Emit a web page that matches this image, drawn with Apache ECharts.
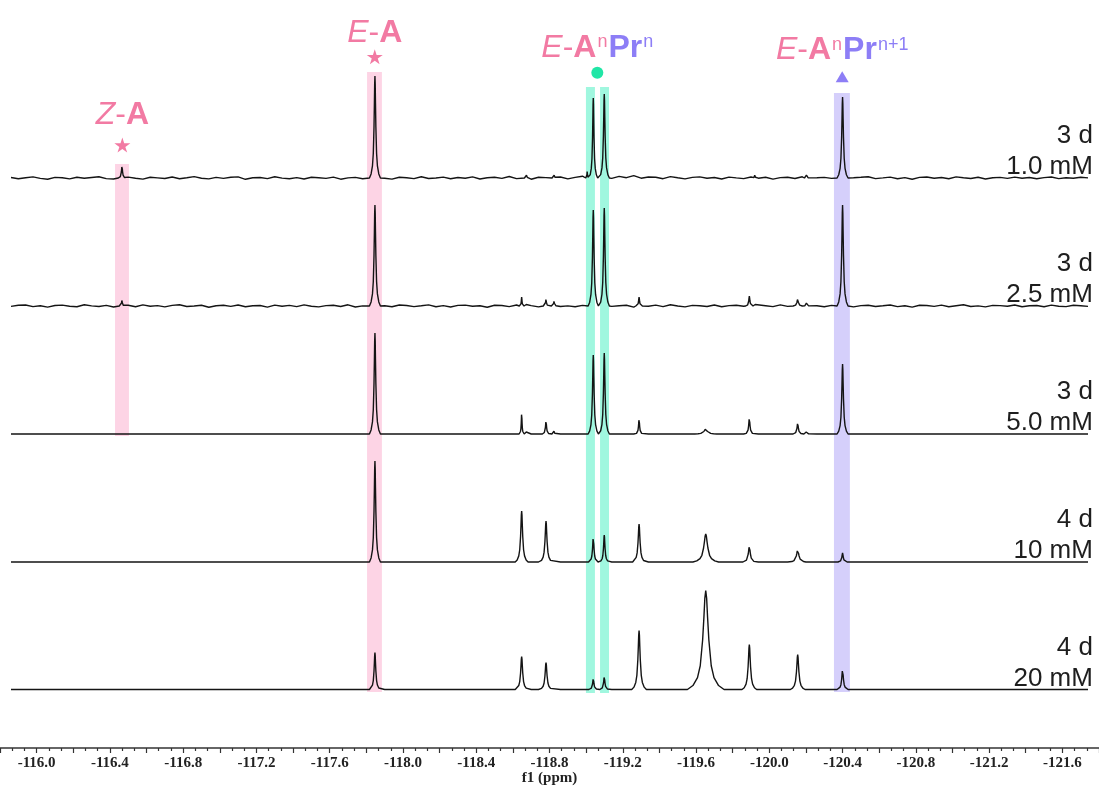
<!DOCTYPE html>
<html>
<head>
<meta charset="utf-8">
<script src="https://cdn.jsdelivr.net/npm/echarts@6/dist/echarts.min.js"></script>
<style>
  html, body { margin: 0; padding: 0; background: #ffffff; }
  #chart { width: 1099px; height: 787px; }
</style>
</head>
<body>
<div id="chart"></div>
<script>
// ---- Sample labels (top to bottom) ----
const sampleDays = ['3 d', '3 d', '3 d', '4 d', '4 d'];
const sampleConc = ['1.0 mM', '2.5 mM', '5.0 mM', '10 mM', '20 mM'];

// ---- Peak tables: [shift (ppm), intensity, half base width (ppm)] ----
const peaks_1_0mM = [
  [-116.466, 12, 0.020],
  [-117.847, 102, 0.030],
  [-118.675, 3, 0.012],
  [-118.826, 3, 0.012],
  [-119.006, 7, 0.008],
  [-119.039, 80, 0.024],
  [-119.099, 84, 0.028],
  [-119.921, 3, 0.012],
  [-120.204, 4, 0.012],
  [-120.400, 81, 0.030]
];
const peaks_2_5mM = [
  [-116.466, 6, 0.015],
  [-117.847, 101, 0.030],
  [-118.648, 9, 0.013],
  [-118.675, 3, 0.010],
  [-118.781, 7, 0.015],
  [-118.825, 5, 0.015],
  [-119.039, 96, 0.028],
  [-119.099, 98, 0.028],
  [-119.289, 9, 0.018],
  [-119.891, 10, 0.020],
  [-119.925, 3, 0.012],
  [-120.155, 7, 0.025],
  [-120.204, 4, 0.015],
  [-120.400, 101, 0.030]
];
const peaks_5_0mM = [
  [-117.847, 101, 0.030],
  [-118.648, 21, 0.014],
  [-118.675, 4, 0.010],
  [-118.781, 13, 0.020],
  [-118.825, 3, 0.012],
  [-119.039, 79, 0.028],
  [-119.099, 81, 0.028],
  [-119.289, 15, 0.020],
  [-119.653, 5, 0.060],
  [-119.891, 16, 0.024],
  [-120.155, 11, 0.025],
  [-120.204, 4, 0.015],
  [-120.400, 70, 0.030]
];
const peaks_10mM = [
  [-117.847, 101, 0.030],
  [-118.648, 51, 0.035],
  [-118.781, 41, 0.035],
  [-119.039, 25, 0.026],
  [-119.099, 27, 0.026],
  [-119.289, 38, 0.035],
  [-119.653, 28, 0.070],
  [-119.891, 16, 0.035],
  [-120.155, 12, 0.045],
  [-120.400, 9, 0.025]
];
const peaks_20mM = [
  [-117.847, 37, 0.030],
  [-118.648, 33, 0.035],
  [-118.781, 27, 0.035],
  [-119.039, 11, 0.024],
  [-119.099, 13, 0.024],
  [-119.289, 59, 0.040],
  [-119.653, 99, 0.100],
  [-119.891, 45, 0.040],
  [-120.155, 35, 0.040],
  [-120.400, 20, 0.030]
];

// ---- Baseline noise of the dilute samples, sampled every 0.04 ppm ----
const noise_1_0mM = [
  0.5,-0.8,0.3,1.1,-0.4,-1.2,0.6,0.2,-0.9,0.8,-0.3,0.5,1.3,-0.6,-1.0,0.4,0.9,-0.2,-1.1,0.7,
  0.1,-0.5,1.0,-0.7,0.3,1.4,-0.2,-0.9,0.6,-0.4,0.8,1.1,-1.3,0.2,0.5,-0.6,1.2,-0.1,-0.8,0.4,
  -1.0,0.7,0.3,-0.4,0.9,-1.2,0.1,0.6,-0.7,1.0,0.4,-0.3,-1.1,0.8,0.2,-0.6,1.3,-0.5,0.0,0.9,
  -0.8,0.5,-0.2,1.1,-1.0,0.3,0.7,-0.4,1.5,-0.6,0.2,-1.2,0.8,0.4,-0.3,1.0,-0.9,0.6,1.8,-0.5,
  1.2,2.1,-0.4,1.6,0.3,2.4,-0.2,1.0,0.8,-0.7,1.4,0.2,-0.9,0.6,1.1,-0.3,0.5,-1.0,0.9,0.1,
  -0.6,1.0,-0.2,0.7,-1.1,0.4,0.8,-0.5,1.2,-0.8,0.3,0.6,-0.4,1.0,-0.9,0.2,0.7,1.3,-0.6,0.1,
  0.9,-0.7,0.4,-1.2,0.6,1.0,-0.3,0.5,-0.8,1.1,0.2,-0.5,0.8,-1.0,0.3,0.6,-0.4,0.9,-0.2,0.5,
  -0.7,0.4,1.0,-0.6,0.2,-0.3,0.8,0.1
];
const noise_2_5mM = [
  -0.4,0.7,1.0,-0.6,0.2,-1.1,0.5,0.9,-0.3,-0.8,1.2,0.1,-0.5,0.6,-1.0,0.3,0.8,-0.7,1.1,-0.2,
  0.4,-0.9,0.6,1.3,-0.5,0.0,0.8,-1.2,0.3,0.7,-0.4,1.0,-0.8,0.2,0.5,-1.1,0.9,-0.3,0.6,-0.6,
  1.1,-0.2,-0.9,0.4,0.8,-0.5,1.2,-1.0,0.1,0.7,-0.4,0.3,-0.8,1.0,0.5,-0.6,0.2,1.1,-0.7,0.4,
  -1.0,0.6,0.9,-0.3,0.2,-1.2,0.8,0.5,-0.6,1.0,-0.2,0.4,-0.9,0.7,1.2,-0.5,0.1,-0.8,0.6,0.3,
  -0.7,1.0,-0.4,0.2,0.8,-1.1,0.5,-0.3,0.9,-0.6,1.3,0.0,-0.9,0.6,0.3,-0.5,1.0,-0.8,0.4,0.7,
  -0.2,-1.0,0.8,0.3,-0.6,1.1,-0.4,0.5,-1.2,0.9,0.2,-0.7,0.6,1.0,-0.3,-0.9,0.4,0.8,-0.5,0.2,
  1.0,-0.6,0.3,-1.1,0.7,0.5,-0.4,0.9,-0.8,0.2,1.2,-0.5,0.1,-0.9,0.6,0.4,-0.3,1.0,-0.7,0.3,
  0.5,-0.8,0.9,-0.2,-0.6,0.7,0.2,-0.4
];

// ---- Assigned signals: highlighted ppm windows and marker positions ----
const bandPpm = [
  [-116.428, -116.504],   // Z-A
  [-117.804, -117.885],   // E-A
  [-118.999, -119.048],   // E-AnPrn (low-field line)
  [-119.076, -119.125],   // E-AnPrn (high-field line)
  [-120.353, -120.440]    // E-AnPrn+1
];
const markerPpm = [-116.468, -117.846, -119.061, -120.398];
const markerText = [
  '{i|Z}{p|-}{b|A}',
  '{i|E}{p|-}{b|A}',
  '{i|E}{p|-}{b|A}{s|n}{vb|Pr}{vs|n}',
  '{i|E}{p|-}{b|A}{s|n}{vb|Pr}{vs|n+1}'
];

// ---- Layout / style constants ----
const PINK = '#f27aa3', PURPLE = '#8d7ef6', GREEN = '#20e6a6';
const traceOffsets = [570, 442, 314, 186, 58.5];      // stacking offsets (plot units)
const bandVertical = [[312, 584], [56, 676], [55, 661], [55, 661], [56, 655]];
const bandColors = ['rgba(249,135,184,0.36)', 'rgba(249,135,184,0.36)',
                    'rgba(44,237,184,0.45)', 'rgba(44,237,184,0.45)', 'rgba(150,135,245,0.40)'];
const markerLevels = [603, 691.3, 675.3, 671.3];
const markerDistance = [3, -2.5, 0, 2];
const STAR = 'path://M50,0 L61,35 L98,35 L68,57 L79,91 L50,70 L21,91 L32,57 L2,35 L39,35 Z';
const markerSymbols = [STAR, STAR, 'circle', 'triangle'];
const markerSizes = [[16, 15], [16, 15], 12, [13, 11]];
const markerColors = [PINK, PINK, GREEN, PURPLE];
// outline of one resonance, left flank to apex: [fraction of half base width, fraction of height]
const peakShape = [[1, 0], [0.7, 0.04], [0.45, 0.12], [0.3, 0.24], [0.17, 0.5], [0.1, 0.73], [0.05, 0.92], [0, 1]];
const ppmStart = -115.86, noiseStep = -0.04, baselineSamples = 148;
const labelPpm = -121.767;
const SANS = 'Liberation Sans, Arial, sans-serif';
const SERIF = 'Liberation Serif, Times New Roman, serif';

const allPeaks = [peaks_1_0mM, peaks_2_5mM, peaks_5_0mM, peaks_10mM, peaks_20mM];
const allNoise = [noise_1_0mM, noise_2_5mM, null, null, null];

// Assemble one stacked trace, left to right: baseline samples merged with each peak outline
function buildTrace(peaks, noise, offset) {
  // peak outlines in display order (peaks are listed from low to high field)
  const outline = [];
  peaks.forEach(([c, h, w]) => {
    peakShape.forEach(([fx, fy]) => outline.push([c + fx * w, offset + fy * h]));
    for (let j = peakShape.length - 2; j >= 0; j--) {
      const [fx, fy] = peakShape[j];
      outline.push([c - fx * w, offset + fy * h]);
    }
  });
  const inPeak = x => peaks.some(p => Math.abs(x - p[0]) <= p[2] + 0.004);
  const base = [];
  for (let i = 0; i < baselineSamples; i++) {
    const x = ppmStart + i * noiseStep;
    if (!inPeak(x)) base.push([x, offset + (noise ? noise[i] : 0)]);
  }
  // merge two lists that both run from high ppm to low ppm
  const pts = [];
  let a = 0, b = 0;
  while (a < base.length || b < outline.length) {
    if (b >= outline.length || (a < base.length && base[a][0] > outline[b][0])) pts.push(base[a++]);
    else pts.push(outline[b++]);
  }
  return pts;
}

const richBase = { fontFamily: SANS, fontSize: 32, lineHeight: 38 };
const supBase = { fontFamily: SANS, fontSize: 18, lineHeight: 20, verticalAlign: 'middle' };
const markerRich = {
  i:  Object.assign({}, richBase, { fontStyle: 'italic', color: PINK }),
  p:  Object.assign({}, richBase, { color: PINK }),
  b:  Object.assign({}, richBase, { fontWeight: 'bold', color: PINK }),
  s:  Object.assign({}, supBase, { color: PINK, padding: [0, 1, 11, 1] }),
  vb: Object.assign({}, richBase, { fontWeight: 'bold', color: PURPLE }),
  vs: Object.assign({}, supBase, { color: PURPLE, padding: [0, 0, 11, 1] })
};

const series = [];

allPeaks.forEach((peaks, k) => {
  series.push({
    name: sampleConc[k],
    type: 'line',
    data: buildTrace(peaks, allNoise[k], traceOffsets[k]),
    showSymbol: false,
    silent: true,
    z: 2,
    lineStyle: { color: '#141414', width: 1.4 }
  });
});

// Sample captions at the right end of every trace
series.push({
  type: 'scatter',
  silent: true,
  z: 6,
  symbolSize: 0.1,
  itemStyle: { color: 'rgba(0,0,0,0)', opacity: 1 },
  data: traceOffsets.map((off, k) => ({
    value: [labelPpm, off],
    label: {
      show: true,
      position: 'left',
      distance: 0,
      offset: [0, -26.5],
      formatter: sampleDays[k] + '\n' + sampleConc[k],
      fontFamily: SANS,
      fontSize: 26,
      lineHeight: 31,
      color: '#1e1e1e'
    }
  }))
});

// Assignment markers, their labels and the translucent highlight bands
series.push({
  type: 'scatter',
  silent: true,
  z: 5,
  itemStyle: { opacity: 1 },
  data: markerPpm.map((x, k) => ({
    value: [x, markerLevels[k]],
    symbol: markerSymbols[k],
    symbolSize: markerSizes[k],
    itemStyle: { color: markerColors[k], opacity: 1 },
    label: {
      show: true,
      position: 'top',
      distance: markerDistance[k],
      formatter: markerText[k],
      rich: markerRich
    }
  })),
  markArea: {
    silent: true,
    label: { show: false },
    data: bandPpm.map((r, k) => [
      { coord: [r[0], bandVertical[k][1]], itemStyle: { color: bandColors[k] } },
      { coord: [r[1], bandVertical[k][0]] }
    ])
  }
});

const chart = echarts.init(document.getElementById('chart'), null, { renderer: 'canvas' });
chart.setOption({
  animation: false,
  backgroundColor: '#ffffff',
  grid: { left: 0, right: 0, top: 0, bottom: 39, outerBoundsMode: 'none', containLabel: false },
  xAxis: {
    type: 'value',
    inverse: true,
    min: -121.8,
    max: -115.8,
    interval: 0.2,
    axisLine: { show: true, onZero: false, lineStyle: { color: '#333333', width: 1.5 } },
    axisTick: { show: true, length: 5, lineStyle: { color: '#333333', width: 1.2 } },
    minorTick: { show: true, splitNumber: 3, length: 3, lineStyle: { color: '#333333', width: 1.2 } },
    splitLine: { show: false },
    minorSplitLine: { show: false },
    axisLabel: {
      margin: 8,
      fontFamily: SERIF,
      fontWeight: 'bold',
      fontSize: 15,
      color: '#222222',
      formatter: v => (Math.round(-v * 10) % 4 === 0 ? v.toFixed(1) : '')
    },
    name: 'f1 (ppm)',
    nameLocation: 'middle',
    nameGap: 23,
    nameMoveOverlap: false,
    nameTextStyle: { fontFamily: SERIF, fontWeight: 'bold', fontSize: 15, color: '#222222' }
  },
  yAxis: { type: 'value', min: 0, max: 748, show: false },
  series: series
});
</script>
</body>
</html>
